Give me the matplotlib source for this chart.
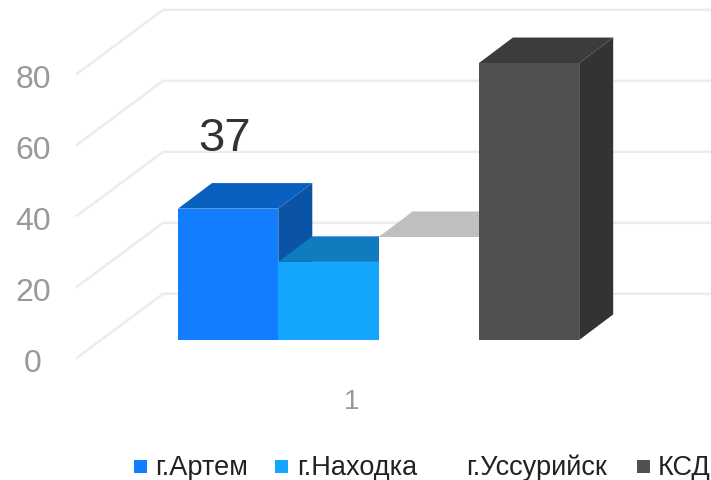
import matplotlib
matplotlib.use('Agg')
import matplotlib.pyplot as plt
from matplotlib.patches import Polygon

plt.rcParams['font.family'] = ['Liberation Sans', 'DejaVu Sans']

categories = ['г.Артем', 'г.Находка', 'г.Уссурийск', 'КСД']
values = [37, 22, 29, 78]
y_ticks = [0, 20, 40, 60, 80]
x_label = '1'
data_label = 37

front_colors = ['#137dff', '#14a5ff', '#ffffff', '#505050']
top_colors = ['#0a60bf', '#0f7cbf', '#bfbfbf', '#3c3c3c']
side_colors = ['#0b54a5', '#0b5c90', '#ffffff', '#333333']
legend_colors = ['#137dff', '#14a5ff', '#ffffff', '#505050']

bar_left = 178
bar_width = 100.3
dx = 34          # depth of the bars
dy = 7.2
px = 3.55        # pixels per value unit

fig = plt.figure(figsize=(7.11, 4.80), dpi=100)
ax = fig.add_axes([0, 0, 1, 1])
ax.set_xlim(0, 711)
ax.set_ylim(-140 / px, 340 / px)
ax.axis('off')

# back wall and left wall gridlines
for v in y_ticks:
    ax.plot([77, 163, 711], [v - 5, v + 13, v + 13], color='#ececec', lw=1.8, zorder=1)
    ax.text(33, v - 6.7, str(v), color='#999999', fontsize=23, ha='center', va='center', zorder=5)

# bars, front face then top and side
for i, v in enumerate(values):
    left = bar_left + i * bar_width
    z = 2 + i
    ax.bar(left, v, width=bar_width, align='edge', color=front_colors[i], zorder=z + 0.3)
    right = left + bar_width
    ax.add_patch(Polygon([(right, 0), (right + dx, dy), (right + dx, v + dy), (right, v)],
                         facecolor=side_colors[i], edgecolor='none', zorder=z))
    ax.add_patch(Polygon([(left, v), (left + dx, v + dy), (right + dx, v + dy), (right, v)],
                         facecolor=top_colors[i], edgecolor='none', zorder=z + 0.2))

ax.text(225, data_label + 19.6, str(data_label), color='#333333', fontsize=34,
        ha='center', va='center', zorder=10)
ax.text(352, -17.6, x_label, color='#999999', fontsize=20, ha='center', va='center')

# legend
legend_square_x = [134, 275, 449, 637]
legend_text_x = [155, 297, 466, 658]
for i, name in enumerate(categories):
    ax.bar(legend_square_x[i], 13 / px, width=13, bottom=-133 / px, align='edge',
           color=legend_colors[i], zorder=6)
    ax.text(legend_text_x[i], -128 / px, name, color='#222222', fontsize=19.5,
            ha='left', va='center')

fig.savefig('out.png', dpi=100)
